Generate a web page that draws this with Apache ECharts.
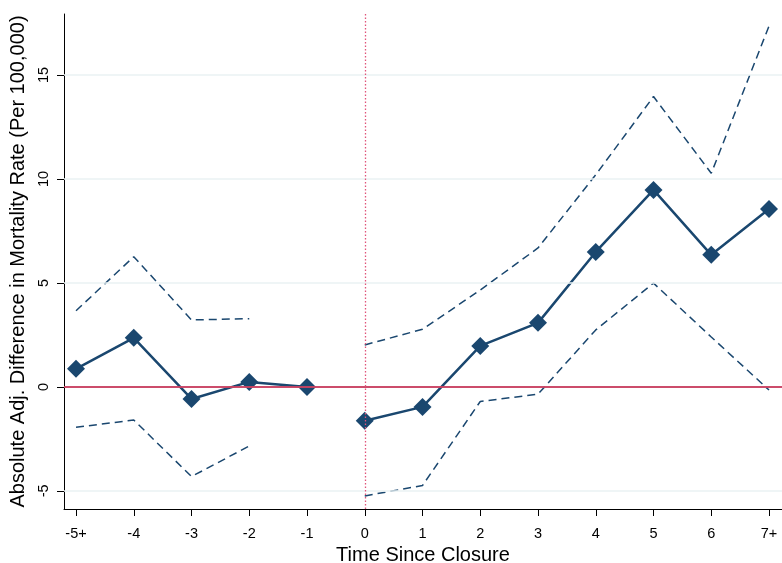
<!DOCTYPE html>
<html lang="en">
<head>
    <meta charset="UTF-8">
    <title>Time Since Closure</title>
    <script type="text/javascript" src="https://cdn.jsdelivr.net/npm/echarts@6/dist/echarts.min.js"></script>
    <style>
        html, body { margin: 0; padding: 0; background: #fff; }
        #chart1 { width: 782px; height: 563px; }
    </style>
</head>
<body>
<div id="chart1"></div>
<script type="text/javascript">
    // 数据
    var categories = ['-5+', '-4', '-3', '-2', '-1', '0', '1', '2', '3', '4', '5', '6', '7+'];
    var estimate = [0.87, 2.36, -0.58, 0.24, 0.0, -1.63, -0.96, 1.97, 3.08, 6.49, 9.47, 6.35, 8.55];
    var upperCI = [3.66, 6.26, 3.22, 3.28, null, 2.02, 2.77, 4.66, 6.68, 10.2, 13.96, 10.27, 17.35];
    var lowerCI = [-1.94, -1.59, -4.31, -2.84, null, -5.24, -4.74, -0.70, -0.35, 2.74, 4.99, 2.4, -0.15];
    var yTicks = [-5, 0, 5, 10, 15];
    var splitIndex = 5; // 0 = closure

    var navy = '#1a476f';
    var font = 'Liberation Sans, Arial, sans-serif';
    var xTicks = categories.map(function (c, i) { return i - 5; });

    // index -> x value (category -5+ sits at -5)
    function pts(arr, from, to) {
        var out = [];
        for (var i = from; i < to; i++) {
            if (arr[i] !== null) out.push([i - 5, arr[i]]);
        }
        return out;
    }

    function lineSeries(arr, from, to, dashed) {
        return {
            type: 'line',
            data: pts(arr, from, to),
            symbol: dashed ? 'none' : 'diamond',
            symbolSize: 18,
            itemStyle: {color: navy},
            lineStyle: dashed
                ? {color: navy, width: 1.5, type: [8, 5]}
                : {color: navy, width: 2.5},
            z: dashed ? 3 : 4,
            animation: false
        };
    }

    function refLine(item, style, z) {
        return {
            type: 'line',
            data: [],
            markLine: {
                silent: true,
                symbol: 'none',
                label: {show: false},
                lineStyle: style,
                data: item
            },
            z: z
        };
    }

    var series = [
        // 网格线
        refLine(yTicks.map(function (v) { return {yAxis: v}; }),
            {color: '#eaf2f3', width: 1.5, type: 'solid'}, 1),
        refLine([{yAxis: 0}], {color: '#c0143c', width: 1.5, type: 'solid'}, 2),
        refLine([{xAxis: 0}], {color: '#e0557a', width: 1.3, type: [1.5, 2]}, 2),
        lineSeries(upperCI, 0, splitIndex, true),
        lineSeries(upperCI, splitIndex, categories.length, true),
        lineSeries(lowerCI, 0, splitIndex, true),
        lineSeries(lowerCI, splitIndex, categories.length, true),
        lineSeries(estimate, 0, splitIndex, false),
        lineSeries(estimate, splitIndex, categories.length, false)
    ];

    var myChart = echarts.init(document.getElementById('chart1'));
    var option = {
        animation: false,
        grid: {left: 64, right: 0, top: 14, bottom: 54, outerBoundsMode: 'none'},
        xAxis: {
            type: 'value',
            min: -5.208,
            max: 7.225,
            name: 'Time Since Closure',
            nameLocation: 'middle',
            nameGap: 31,
            nameTextStyle: {fontFamily: font, fontSize: 20, color: '#000'},
            axisLine: {show: true, onZero: false, lineStyle: {color: '#000', width: 1}},
            axisTick: {show: true, length: 7, lineStyle: {color: '#000'}, customValues: xTicks},
            axisLabel: {
                fontFamily: font, fontSize: 14.5, color: '#000', margin: 17,
                customValues: xTicks,
                formatter: function (v) { return categories[Math.round(v) + 5]; }
            },
            splitLine: {show: false}
        },
        yAxis: {
            type: 'value',
            min: -5.87,
            max: 17.93,
            name: 'Absolute Adj. Difference in Mortality Rate (Per 100,000)',
            nameLocation: 'middle',
            nameRotate: 90,
            nameGap: 35,
            nameTextStyle: {fontFamily: font, fontSize: 20, color: '#000'},
            axisLine: {show: true, onZero: false, lineStyle: {color: '#000', width: 1}},
            axisTick: {show: true, length: 7, lineStyle: {color: '#000'}, customValues: yTicks},
            axisLabel: {
                fontFamily: font, fontSize: 14.5, color: '#000', margin: 13,
                rotate: 90, customValues: yTicks
            },
            splitLine: {show: false}
        },
        series: series
    };
    myChart.setOption(option);
</script>
</body>
</html>
